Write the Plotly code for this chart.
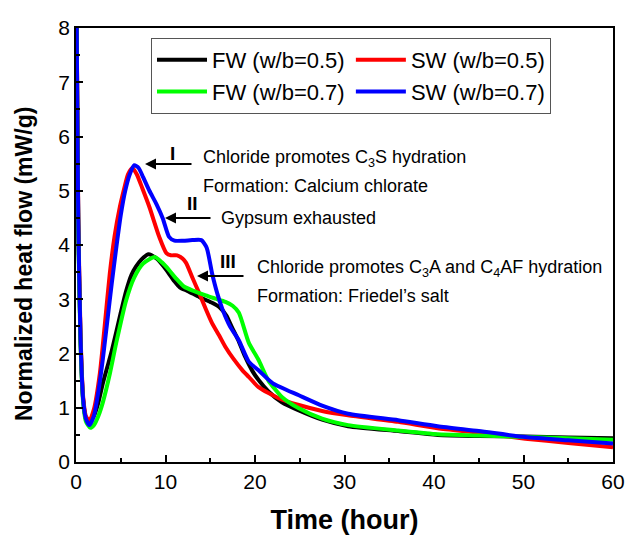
import plotly.graph_objects as go

# ---- data ----
t_fw05 = [0, 0.1, 0.25, 0.5, 0.8, 1.1, 1.4, 2, 2.5, 3, 3.5, 4, 5, 5.6, 6.2, 6.7, 7.3, 8.1, 9, 10.1, 11, 11.6, 12.5, 13.8, 15, 16, 16.8, 17.4, 18.2, 18.9, 19.7, 20.4, 21.5, 23, 24.9, 27.5, 30.4, 36, 40.4, 45, 50.2, 55, 60]
v_fw05 = [10, 7.5, 4.5, 2.3, 1.15, 0.8, 0.71, 0.85, 1.1, 1.45, 1.75, 2.05, 2.75, 3.15, 3.45, 3.6, 3.73, 3.83, 3.75, 3.54, 3.33, 3.22, 3.15, 3.04, 2.95, 2.86, 2.7, 2.49, 2.22, 1.94, 1.68, 1.51, 1.3, 1.1, 0.95, 0.78, 0.66, 0.57, 0.5, 0.48, 0.47, 0.45, 0.44]

t_sw05 = [0, 0.1, 0.25, 0.5, 0.8, 1.1, 1.5, 2, 2.67, 3.2, 3.78, 4.3, 4.9, 5.4, 5.8, 6.3, 6.8, 7.4, 8.2, 9.3, 10.1, 10.6, 11.3, 11.9, 12.3, 13, 13.8, 14.5, 15.2, 16, 16.7, 17.6, 18.6, 19.3, 20.4, 22.7, 24.9, 27.5, 30.4, 36, 40.4, 45, 50.2, 55, 60]
v_sw05 = [10, 7.6, 4.6, 2.4, 1.2, 0.85, 0.76, 0.97, 1.64, 2.5, 3.48, 4.15, 4.7, 5.05, 5.3, 5.42, 5.3, 5.05, 4.7, 4.15, 3.85, 3.81, 3.81, 3.75, 3.67, 3.4, 3.1, 2.82, 2.56, 2.33, 2.12, 1.9, 1.69, 1.57, 1.38, 1.17, 1.05, 0.94, 0.86, 0.74, 0.62, 0.54, 0.43, 0.35, 0.27]

t_fw07 = [0, 0.1, 0.25, 0.5, 0.8, 1.1, 1.6, 2, 2.5, 3, 3.8, 4.5, 5.6, 6.5, 7.5, 8.8, 9.6, 10.4, 11.2, 12.1, 13.2, 14.5, 15.6, 16.7, 17.5, 18.2, 19.3, 20.4, 21.5, 23, 24.9, 27.5, 30.4, 36, 40.4, 45, 50.2, 55, 60]
v_fw07 = [10, 7.3, 4.3, 2.2, 1.1, 0.75, 0.63, 0.68, 0.85, 1.1, 1.64, 2.2, 2.98, 3.4, 3.66, 3.78, 3.68, 3.54, 3.38, 3.23, 3.15, 3.07, 3.01, 2.95, 2.88, 2.75, 2.2, 1.88, 1.5, 1.2, 0.99, 0.8, 0.68, 0.58, 0.51, 0.49, 0.46, 0.44, 0.41]

t_sw07 = [0, 0.1, 0.25, 0.5, 0.8, 1.1, 1.5, 2, 2.5, 3, 3.5, 4, 4.5, 5, 5.5, 6, 6.5, 7, 7.5, 8.2, 9, 9.7, 10.4, 11, 12, 13, 14, 14.6, 15.2, 15.8, 16.4, 17.2, 18.2, 19.3, 20.4, 22, 24.9, 27.5, 30.4, 36, 40.4, 45, 50.2, 55, 60]
v_sw07 = [10, 7.5, 4.5, 2.3, 1.15, 0.8, 0.68, 0.85, 1.3, 1.9, 2.6, 3.3, 3.95, 4.55, 5.0, 5.3, 5.47, 5.42, 5.25, 5.0, 4.75, 4.49, 4.15, 4.08, 4.08, 4.09, 4.09, 3.95, 3.48, 3.1, 2.8, 2.5, 2.24, 1.85, 1.69, 1.45, 1.23, 1.04, 0.89, 0.77, 0.66, 0.57, 0.46, 0.4, 0.34]

series_names = ["FW (w/b=0.5)", "SW (w/b=0.5)", "FW (w/b=0.7)", "SW (w/b=0.7)"]
series_colors = ["#000000", "#ff0000", "#00ff00", "#0000ff"]
series_t = [t_fw05, t_sw05, t_fw07, t_sw07]
series_v = [v_fw05, v_sw05, v_fw07, v_sw07]

x_ticks = [0, 10, 20, 30, 40, 50, 60]
y_ticks = [0, 1, 2, 3, 4, 5, 6, 7, 8]

FONT = "Liberation Sans, Arial, sans-serif"

# layout geometry
W, H = 629, 537
ML, MR, MT, MB = 76, 16, 28, 75
PW, PH = W - ML - MR, H - MT - MB


def dx(px):
    return (px - ML) / PW * 60


def dy(py):
    return (MT + PH - py) / PH * 8


def px_x(px):
    return (px - ML) / PW


def px_y(py):
    return (MT + PH - py) / PH


fig = go.Figure()
for name, col, t, v in zip(series_names, series_colors, series_t, series_v):
    fig.add_trace(go.Scatter(x=t, y=v, mode="lines", name=name,
                             line=dict(color=col, width=4, shape="spline", smoothing=0.6)))

annotations = []
# Roman numerals
for txt, px, py in [("I", 172, 153), ("II", 192, 203), ("III", 228, 261)]:
    annotations.append(dict(x=dx(px), y=dy(py), text="<b>%s</b>" % txt, showarrow=False,
                            font=dict(family=FONT, size=19, color="black"),
                            xanchor="center", yanchor="middle"))
# arrows
for hx, hy, tx in [(145, 164, 193), (165, 218, 212), (197, 276, 245)]:
    annotations.append(dict(x=dx(hx), y=dy(hy), ax=tx - hx, ay=0, text="", showarrow=True,
                            arrowhead=2, arrowsize=1.1, arrowwidth=2, arrowcolor="black"))
# text lines
for txt, px, py in [("Chloride promotes C<sub>3</sub>S hydration", 201, 158),
                    ("Formation: Calcium chlorate", 201, 186),
                    ("Gypsum exhausted", 219, 218),
                    ("Chloride promotes C<sub>3</sub>A and C<sub>4</sub>AF hydration", 255, 268),
                    ("Formation: Friedel\u2019s salt", 255, 296)]:
    annotations.append(dict(x=dx(px), y=dy(py), text=txt, showarrow=False,
                            font=dict(family=FONT, size=18, color="black"),
                            xanchor="left", yanchor="middle"))
# y-axis title
annotations.append(dict(xref="paper", yref="paper", x=px_x(24), y=px_y(264),
                        text="<b>Normalized heat flow (mW/g)</b>", textangle=-90, showarrow=False,
                        font=dict(family=FONT, size=23, color="black"),
                        xanchor="center", yanchor="middle"))

fig.update_layout(
    width=W, height=H,
    margin=dict(l=ML, r=MR, t=MT, b=MB),
    paper_bgcolor="white", plot_bgcolor="white",
    font=dict(family=FONT, color="black"),
    showlegend=True,
    legend=dict(orientation="h", x=px_x(151), y=px_y(38),
                xanchor="left", yanchor="top",
                font=dict(family=FONT, size=22, color="black"),
                bordercolor="#555555", borderwidth=1, bgcolor="rgba(255,255,255,0)",
                itemwidth=50, tracegroupgap=0),
    annotations=annotations,
    xaxis=dict(range=[0, 60], tickvals=x_ticks, ticks="inside", ticklen=7, tickwidth=1.5,
               tickcolor="black", showline=True, linecolor="black", linewidth=1.5, mirror=True,
               showgrid=False, zeroline=False, ticklabelstandoff=0, automargin=False,
               minor=dict(dtick=5, ticks="inside", ticklen=4, tickwidth=1.5, tickcolor="black", showgrid=False),
               tickfont=dict(family=FONT, size=21, color="black"),
               title=dict(text="<b>Time (hour)</b>", font=dict(family=FONT, size=27, color="black"), standoff=18)),
    yaxis=dict(range=[0, 8], tickvals=y_ticks, ticks="inside", ticklen=7, tickwidth=1.5,
               tickcolor="black", showline=True, linecolor="black", linewidth=1.5, mirror=True,
               showgrid=False, zeroline=False, automargin=False,
               minor=dict(dtick=0.5, ticks="inside", ticklen=4, tickwidth=1.5, tickcolor="black", showgrid=False),
               tickfont=dict(family=FONT, size=21, color="black")),
)

fig.write_html("out.html")
